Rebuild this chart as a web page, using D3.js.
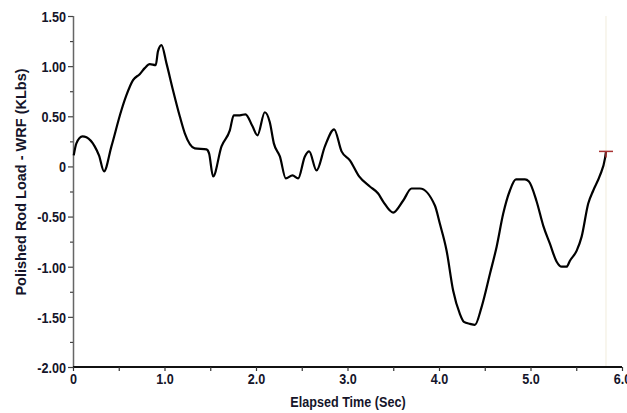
<!DOCTYPE html>
<html>
<head>
<meta charset="utf-8">
<script src="https://cdn.jsdelivr.net/npm/d3@7"></script>
<style>
  html, body { margin: 0; padding: 0; background: #fff; }
  svg { display: block; }
  .narrow { font-family: "Liberation Sans", Arial, sans-serif; font-weight: bold; }
</style>
</head>
<body>
<div id="chart"></div>
<script>
// elapsed time (sec) and polished rod load (KLbs)
var timeSec = [0.008, 0.037, 0.103, 0.147, 0.237, 0.284, 0.339, 0.420, 0.529, 0.584,
  0.656, 0.729, 0.784, 0.839, 0.904, 0.929, 0.967, 1.021, 1.093, 1.167,
  1.222, 1.331, 1.459, 1.487, 1.531, 1.623, 1.714, 1.757, 1.823, 1.885,
  1.962, 2.016, 2.096, 2.151, 2.195, 2.261, 2.326, 2.399, 2.460, 2.534,
  2.581, 2.662, 2.753, 2.854, 2.935, 3.026, 3.127, 3.244, 3.335, 3.390,
  3.499, 3.609, 3.700, 3.791, 3.955, 4.009, 4.083, 4.155, 4.228, 4.272,
  4.338, 4.392, 4.466, 4.557, 4.630, 4.702, 4.775, 4.841, 4.939, 4.983,
  5.067, 5.139, 5.212, 5.286, 5.341, 5.395, 5.431, 5.505, 5.559, 5.631,
  5.686, 5.759, 5.814, 5.825];
var loadKlbs = [0.11, 0.23, 0.30, 0.29, 0.20, 0.11, -0.05, 0.20, 0.56, 0.71,
  0.86, 0.92, 0.98, 1.02, 1.01, 1.15, 1.21, 1.03, 0.76, 0.50,
  0.33, 0.18, 0.17, 0.13, -0.10, 0.20, 0.36, 0.51, 0.51, 0.52,
  0.40, 0.31, 0.54, 0.44, 0.23, 0.10, -0.12, -0.09, -0.12, 0.10,
  0.15, -0.04, 0.20, 0.37, 0.15, 0.06, -0.10, -0.20, -0.27, -0.35,
  -0.46, -0.34, -0.22, -0.22, -0.39, -0.57, -0.84, -1.24, -1.47, -1.55,
  -1.57, -1.58, -1.40, -1.07, -0.80, -0.47, -0.24, -0.13, -0.13, -0.15,
  -0.35, -0.59, -0.77, -0.95, -1.00, -1.00, -0.94, -0.84, -0.70, -0.37,
  -0.24, -0.09, 0.08, 0.15];

var yTicks = [1.5, 1.0, 0.5, 0, -0.5, -1.0, -1.5, -2.0];
var yTickLabels = ["1.50", "1.00", "0.50", "0", "-0.50", "-1.00", "-1.50", "-2.00"];
var xTicks = [0, 1, 2, 3, 4, 5, 6];
var xTickLabels = ["0", "1.0", "2.0", "3.0", "4.0", "5.0", "6.0"];
var cursorTime = 5.825;

var W = 627, H = 413;
var margin = {top: 16, right: 5, bottom: 46, left: 73};
var width = 622 - margin.left,
    height = 367 - margin.top;

var svg = d3.select("#chart").append("svg")
  .attr("width", W).attr("height", H);
var g = svg.append("g")
  .attr("transform", "translate(" + margin.left + "," + margin.top + ")");

var x = d3.scaleLinear().domain([0, 6]).range([0, width]);
var y = d3.scaleLinear().domain([-2, 1.5]).range([height, 0]);

// cursor line (faint)
g.append("line")
  .attr("x1", x(cursorTime)).attr("x2", x(cursorTime))
  .attr("y1", 0).attr("y2", height)
  .attr("stroke", "#f1ecdc").attr("stroke-width", 1);

// y axis: minor + major ticks
var yAxis = d3.axisLeft(y).tickValues(d3.range(-2, 1.51, 0.25))
  .tickSize(4)
  .tickFormat(function (d) {
    var i = yTicks.findIndex(function (t) { return Math.abs(t - d) < 1e-6; });
    return i >= 0 ? yTickLabels[i] : "";
  });
var gy = g.append("g").call(yAxis);
gy.select(".domain").attr("stroke", "#666").attr("stroke-width", 1.5).attr("d", "M0.5,0V" + height);
gy.selectAll(".tick line").attr("stroke", "#444").attr("stroke-width", 1.2)
  .attr("x2", function (d) { return Math.abs(d * 2 - Math.round(d * 2)) < 1e-6 ? -5 : -3; });
gy.selectAll(".tick text")
  .attr("class", "narrow").attr("x", -7).attr("dy", "0.36em")
  .style("font-size", "15px").attr("fill", "#15152a");

// x axis
var xAxis = d3.axisBottom(x).tickValues(d3.range(0, 6.01, 0.5))
  .tickSize(4)
  .tickFormat(function (d) {
    var i = xTicks.indexOf(d);
    return i >= 0 ? xTickLabels[i] : "";
  });
var gx = g.append("g").attr("transform", "translate(0," + height + ")").call(xAxis);
gx.select(".domain").attr("stroke", "#111").attr("stroke-width", 2).attr("d", "M0,0H" + width);
gx.selectAll(".tick line").attr("stroke", "#333").attr("stroke-width", 1.2);
gx.selectAll(".tick text")
  .attr("class", "narrow").attr("y", 6).attr("dy", "0.71em")
  .style("font-size", "15px").attr("fill", "#15152a");

// load curve
var line = d3.line()
  .x(function (d, i) { return x(timeSec[i]); })
  .y(function (d) { return y(d); })
  .curve(d3.curveMonotoneX);
g.append("path")
  .datum(loadKlbs)
  .attr("fill", "none")
  .attr("stroke", "#000")
  .attr("stroke-width", 2.2)
  .attr("stroke-linejoin", "round")
  .attr("d", line);

// red end marker
var mx = x(cursorTime), my = y(loadKlbs[loadKlbs.length - 1]);
g.append("line").attr("x1", mx - 7).attr("x2", mx + 7).attr("y1", my).attr("y2", my)
  .attr("stroke", "#a83232").attr("stroke-width", 1.5);
g.append("line").attr("x1", mx).attr("x2", mx).attr("y1", my).attr("y2", my + 6)
  .attr("stroke", "#a83232").attr("stroke-width", 1.5);

// axis titles
svg.append("text")
  .attr("class", "narrow")
  .attr("x", 348).attr("y", 407)
  .attr("text-anchor", "middle")
  .style("font-size", "15px").attr("fill", "#15152a")
  .text("Elapsed Time (Sec)");

svg.append("text")
  .attr("transform", "translate(26,182) rotate(-90)")
  .attr("text-anchor", "middle")
  .style("font-family", "'Liberation Sans', Arial, sans-serif")
  .style("font-weight", "bold")
  .style("font-size", "14.5px").attr("fill", "#15152a")
  .text("Polished Rod Load - WRF (KLbs)");

// the original uses a condensed face: squeeze the narrow texts
svg.selectAll("text.narrow").each(function () {
  var len = this.getComputedTextLength();
  if (len > 0) {
    d3.select(this).attr("textLength", len * 0.84).attr("lengthAdjust", "spacingAndGlyphs");
  }
});
</script>
</body>
</html>
